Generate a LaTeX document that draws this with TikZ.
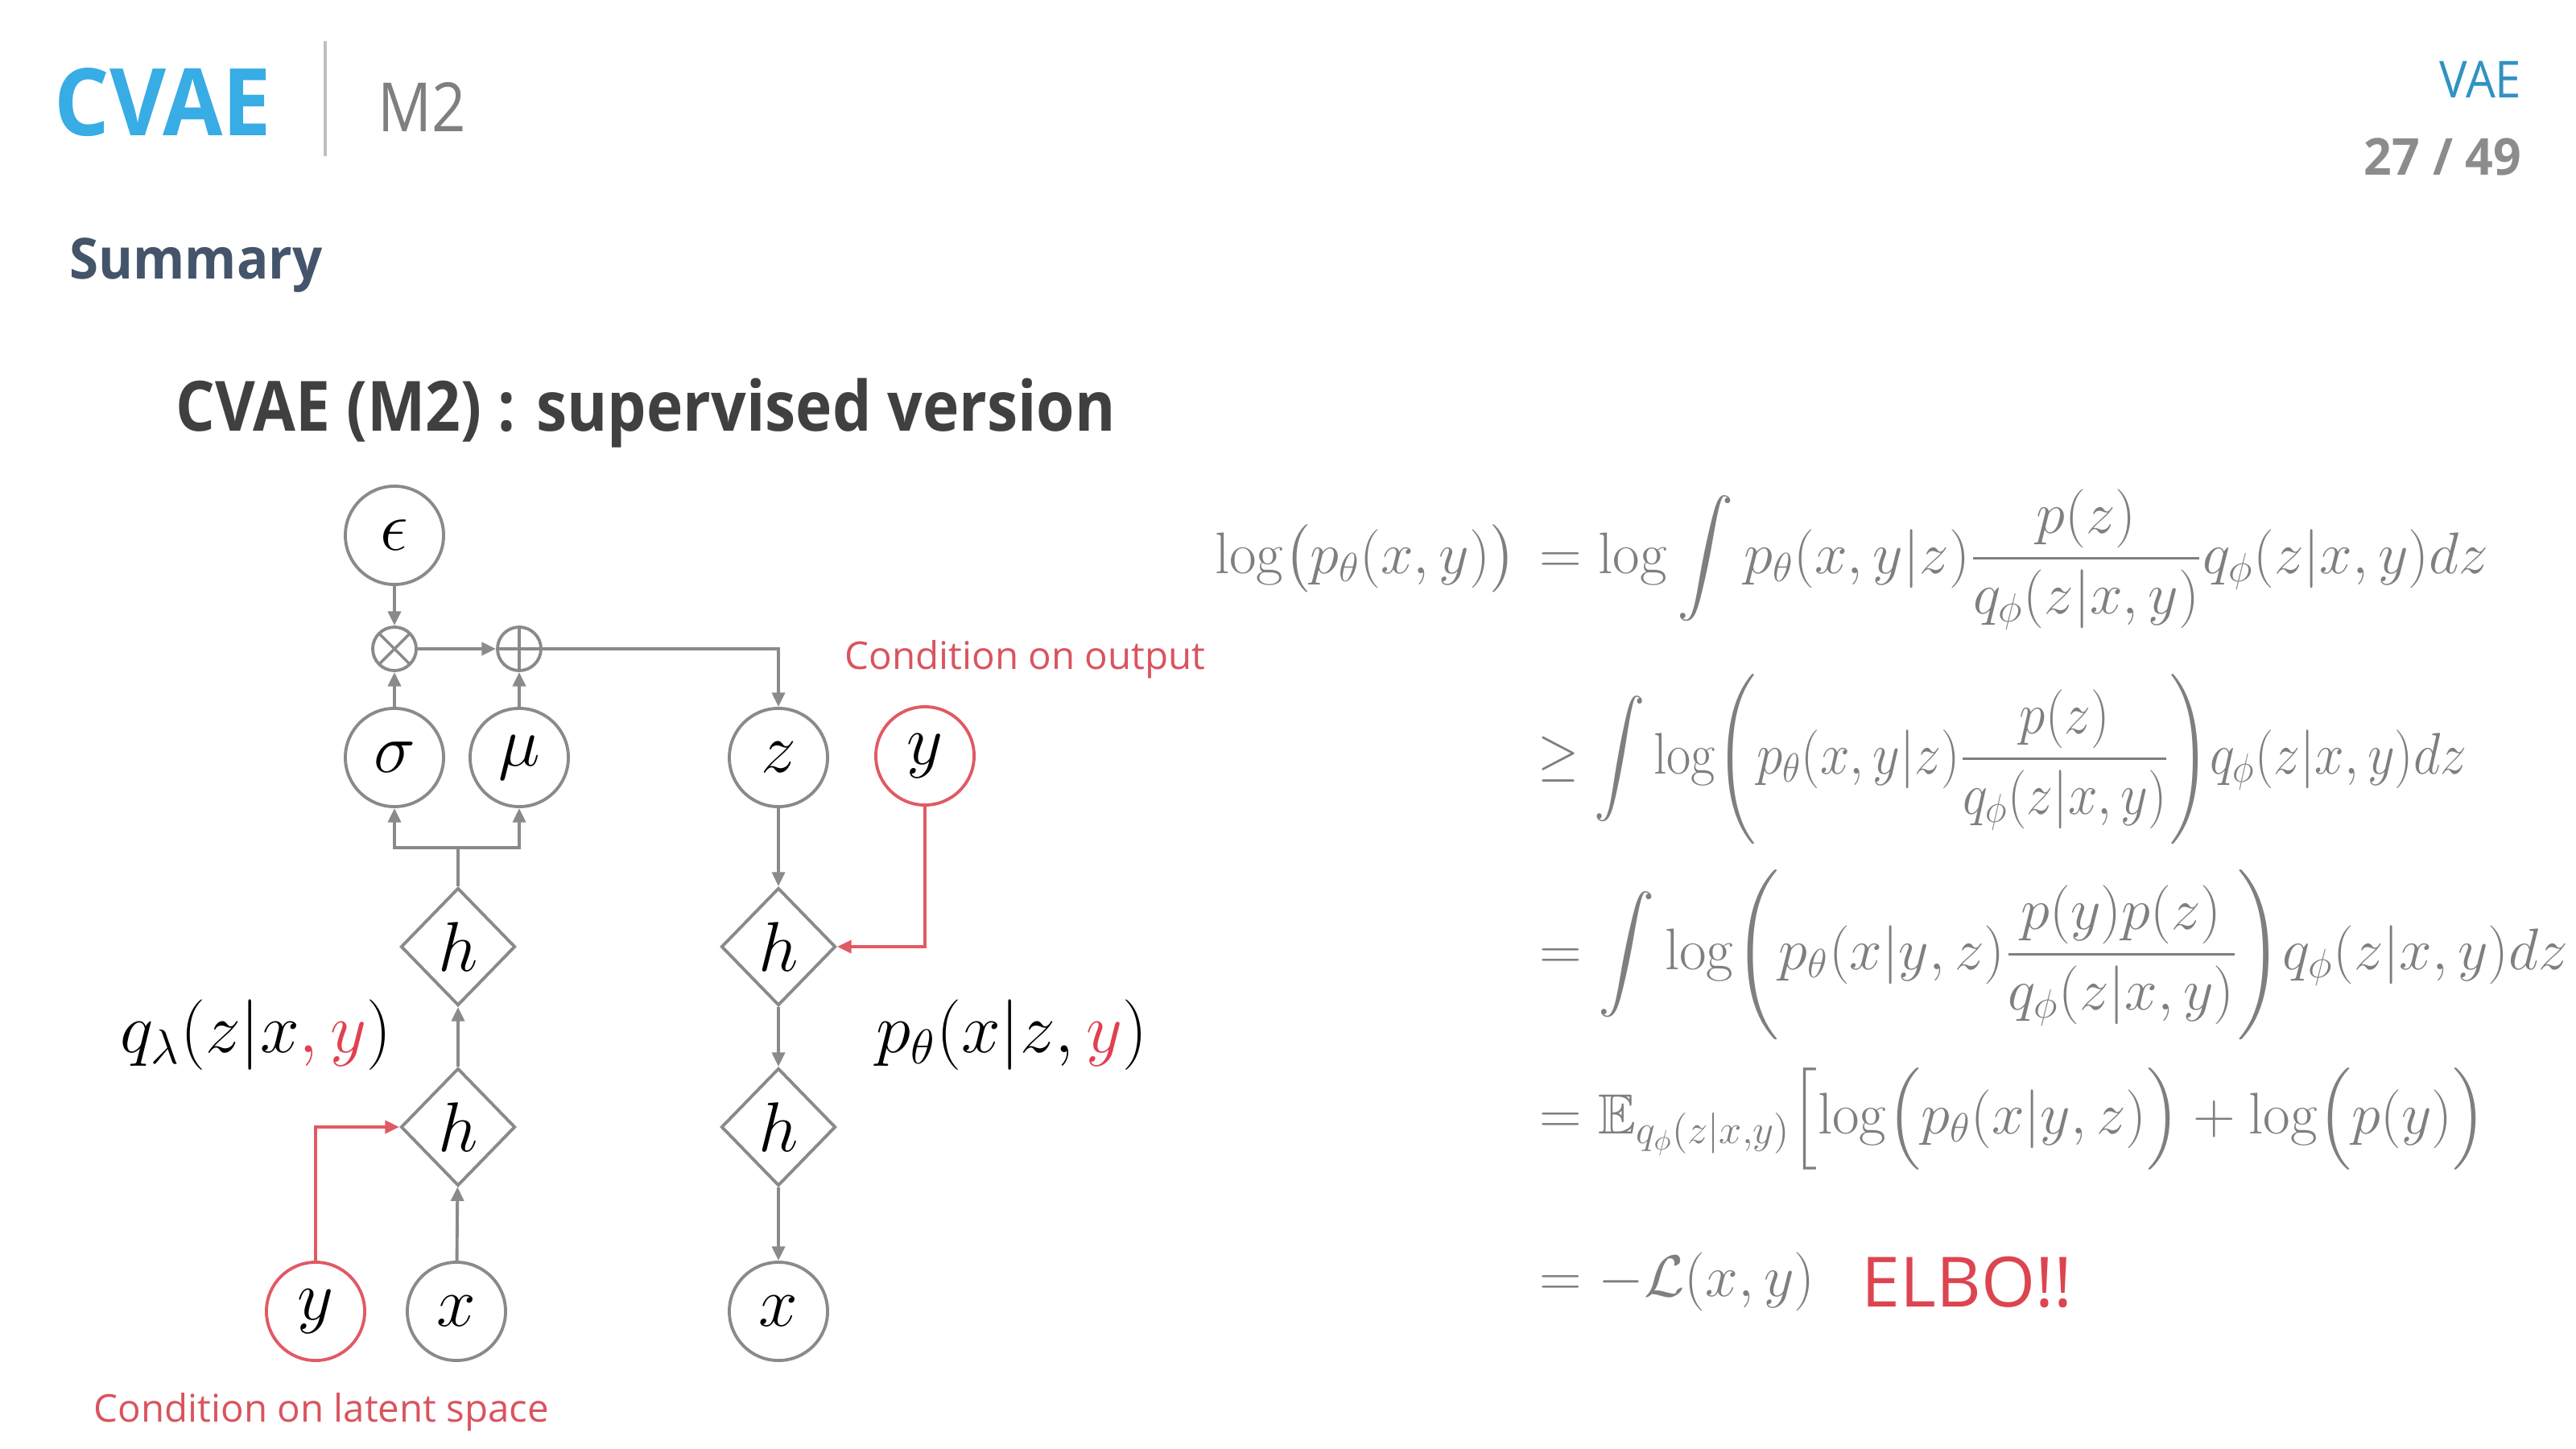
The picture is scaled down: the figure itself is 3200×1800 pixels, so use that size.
\documentclass[tikz,border=0pt]{standalone}
\usepackage{amsmath,amssymb}
\usepackage[no-math]{fontspec}
\setmainfont{Open Sans}
\usetikzlibrary{shapes.geometric,arrows.meta}
\definecolor{cvaeblue}{HTML}{38ACE4}
\definecolor{titlegray}{HTML}{404040}
\definecolor{midgray}{HTML}{7F7F7F}
\definecolor{pagegray}{HTML}{8C8C8C}
\definecolor{sumblue}{HTML}{44546A}
\definecolor{linegray}{HTML}{8A8A8A}
\definecolor{condred}{HTML}{D9545E}
\definecolor{linered}{HTML}{E05A64}
\definecolor{elbored}{HTML}{DC4550}
\definecolor{vred}{HTML}{E04050}
\begin{document}
\begin{tikzpicture}[x=0.01cm,y=-0.01cm,
  var/.style={circle,draw=linegray,line width=1.1pt,minimum size=1.22cm,inner sep=0pt,
    font=\fontsize{24}{30}\selectfont},
  cvar/.style={var,draw=linered},
  hid/.style={diamond,draw=linegray,line width=1.1pt,minimum width=1.42cm,minimum height=1.46cm,
    inner sep=0pt,font=\fontsize{24}{30}\selectfont},
  opnode/.style={circle,draw=linegray,line width=1.1pt,minimum size=0.54cm,inner sep=0pt},
  arr/.style={draw=linegray,line width=1.1pt,-{Triangle[length=5pt,width=4.5pt]}},
  rarr/.style={draw=linered,line width=1.1pt,-{Triangle[length=5pt,width=4.5pt]}},
  eq/.style={inner sep=0pt,text=midgray,font=\fontsize{20}{24}\selectfont},
  lbl/.style={inner sep=0pt,font=\fontsize{24}{28}\selectfont},
  cond/.style={inner sep=0pt,text=condred,font=\fontsize{13.5}{16}\selectfont},
  txt/.style={inner sep=0pt}
]
\useasboundingbox (0,0) rectangle (3200,1800);

% header
\node[txt,anchor=base west,text=cvaeblue,font=\fontsize{33}{40}\selectfont\bfseries] (hcvae) at (67,169) {\scalebox{0.93}[1]{CVAE}};
\draw[line width=1pt,draw=black!25] (404,51) -- (404,194);
\node[txt,anchor=base west,text=midgray,font=\fontsize{24}{28}\selectfont] (hm2) at (469,163) {\scalebox{0.88}[1]{M2}};
\node[txt,anchor=base east,text=cvaeblue!85!black,font=\fontsize{18}{22}\selectfont] (hvae) at (3133,122) {\scalebox{0.92}[1]{VAE}};
\node[txt,anchor=base east,text=pagegray,font=\fontsize{18}{22}\selectfont\bfseries] (hpage) at (3133,218) {\scalebox{0.96}[1]{27 / 49}};
\node[txt,anchor=base west,text=sumblue,font=\fontsize{20}{24}\selectfont\bfseries] (hsum) at (86,347) {\scalebox{0.93}[1]{Summary}};
\node[txt,anchor=base west,text=titlegray,font=\fontsize{24.5}{30}\selectfont\bfseries] (htitle) at (218,535) {\scalebox{0.89}[1]{CVAE (M2) : supervised version}};

% diagram nodes
\node[var] (eps) at (490,665) {$\epsilon$};
\node[opnode,path picture={\draw[linegray,line width=1pt]
   (path picture bounding box.north west) -- (path picture bounding box.south east)
   (path picture bounding box.north east) -- (path picture bounding box.south west);}] (otimes) at (490,806) {};
\node[opnode,path picture={\draw[linegray,line width=1pt]
   (path picture bounding box.north) -- (path picture bounding box.south)
   (path picture bounding box.west) -- (path picture bounding box.east);}] (oplus) at (645,806) {};
\node[var] (sigma) at (490,941) {$\sigma$};
\node[var] (mu) at (645,941) {$\mu$};
\node[var] (z) at (967,941) {$z$};
\node[cvar] (yout) at (1149,939) {$y$};
\node[hid] (h1) at (569,1176) {$h$};
\node[hid] (h0) at (569,1400) {$h$};
\node[hid] (h2) at (967,1176) {$h$};
\node[hid] (h3) at (967,1400) {$h$};
\node[cvar] (yin) at (392,1629) {$y$};
\node[var] (xin) at (567,1629) {$x$};
\node[var] (xout) at (967,1629) {$x$};
\coordinate (fork) at (569,1053);

% connectors
\draw[arr] (eps) -- (otimes);
\draw[arr] (sigma) -- (otimes);
\draw[arr] (mu) -- (oplus);
\draw[arr] (otimes) -- (oplus);
\draw[arr] (oplus.east) -| (z.north);
\draw[line width=1.1pt,draw=linegray] (h1.north) -- (fork);
\draw[arr] (fork) -| (sigma.south);
\draw[arr] (fork) -| (mu.south);
\draw[arr] (h0) -- (h1);
\draw[arr] (xin) -- (h0);
\draw[rarr] (yin.north) |- (h0.west);
\draw[arr] (z) -- (h2);
\draw[rarr] (yout.south) |- (h2.east);
\draw[arr] (h2) -- (h3);
\draw[arr] (h3) -- (xout);

% labels
\node[lbl] (qlab) at (318,1286) {$q_\lambda(z|x\textcolor{vred}{,y})$};
\node[lbl] (plab) at (1257,1286) {$p_\theta(x|z,\textcolor{vred}{y})$};
\node[cond,anchor=base west] (condout) at (1049,831) {Condition on output};
\node[cond,anchor=base west] (condlat) at (116,1766) {Condition on latent space};

% equations
\node[eq,anchor=base east] (e1l) at (1884,712) {$\log\bigl(p_\theta(x,y)\bigr)$};
\node[eq,anchor=base west] (e1r) at (1892,712) {$\displaystyle{}=\log\int p_\theta(x,y|z)\frac{p(z)}{q_\phi(z|x,y)}q_\phi(z|x,y)dz$};
\node[eq,anchor=base west] (e2) at (1892,961) {\scalebox{0.9}[1]{$\displaystyle{}\geq\int\log\Biggl(p_\theta(x,y|z)\frac{p(z)}{q_\phi(z|x,y)}\Biggr)q_\phi(z|x,y)dz$}};
\node[eq,anchor=base west] (e3) at (1892,1204) {$\displaystyle{}=\int\log\Biggl(p_\theta(x|y,z)\frac{p(y)p(z)}{q_\phi(z|x,y)}\Biggr)q_\phi(z|x,y)dz$};
\node[eq,anchor=base west] (e4) at (1892,1408) {$\displaystyle{}=\mathbb{E}_{q_\phi(z|x,y)}\Bigl[\log\Bigl(p_\theta(x|y,z)\Bigr)+\log\Bigl(p(y)\Bigr)$};
\node[eq,anchor=base west] (e5) at (1892,1610) {$\displaystyle{}=-\mathcal{L}(x,y)$};
\node[txt,anchor=base west,text=elbored,font=\fontsize{24.5}{30}\selectfont] (elbo) at (2312,1623) {ELBO!!};
\end{tikzpicture}
\end{document}
